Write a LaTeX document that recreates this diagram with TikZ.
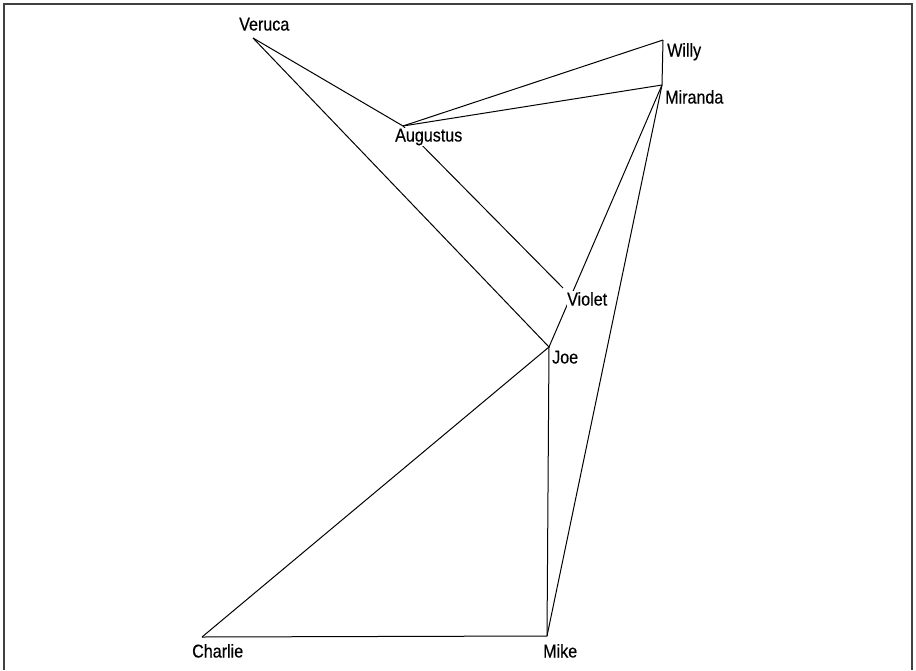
\documentclass[tikz,border=0pt]{standalone}
\usepackage{fontspec}
\setmainfont[FakeStretch = 0.87, FakeBold = 0.4]{Liberation Sans}
\tikzset{
    edge/.style = {line width = 1pt, black},
    lbl/.style = {fill = white, inner xsep = 0pt, inner ysep = 1pt, anchor = base west,
                  font = \fontsize{18.5}{22}\selectfont}
}
\begin{document}
\begin{tikzpicture}[x = 1pt, y = -1pt]
                \useasboundingbox (0,0) rectangle (916,670);
                \draw[line width = 1.5pt, black!75] (4,670) -- (4,4) -- (912,4) -- (912,670);
                % points of the graph
                \coordinate (veruca) at (253,38);
                \coordinate (willy) at (663,40);
                \coordinate (miranda) at (662,85);
                \coordinate (augustus) at (403,126);
                \coordinate (violet) at (563,288);
                \coordinate (joe) at (549,347);
                \coordinate (charlie) at (202,637);
                \coordinate (mike) at (547,636);
                \begin{scope}[style = edge]
                    \draw (veruca) -- (augustus);
                    \draw (veruca) -- (joe);
                    \draw (augustus) -- (willy);
                    \draw (augustus) -- (miranda);
                    \draw (willy) -- (miranda);
                    \draw (augustus) -- (violet);
                    \draw (miranda) -- (joe);
                    \draw (miranda) -- (mike);
                    \draw (joe) -- (charlie);
                    \draw (joe) -- (mike);
                    \draw (charlie) -- (mike);
                \end{scope}
                % labels
                \node[lbl] (verucalbl) at (239,30.5) {Veruca};
                \node[lbl] (willylbl) at (667,56.5) {Willy};
                \node[lbl] (mirandalbl) at (665,103.5) {Miranda};
                \node[lbl] (augustuslbl) at (395,141.5) {Augustus};
                \node[lbl] (violetlbl) at (567,305.5) {Violet};
                \node[lbl] (joelbl) at (552,363.5) {Joe};
                \node[lbl] (charlielbl) at (192,657.5) {Charlie};
                \node[lbl] (mikelbl) at (543,657.5) {Mike};
            \end{tikzpicture}
\end{document}
